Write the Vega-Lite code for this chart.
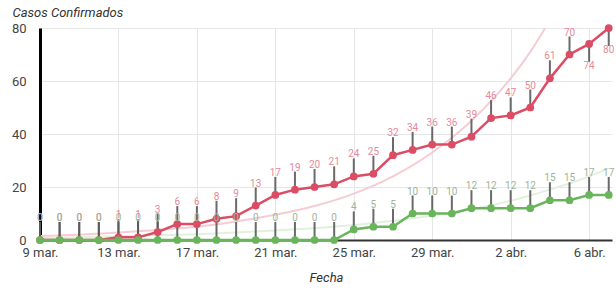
{
  "$schema": "https://vega.github.io/schema/vega-lite/v6.json",
  "width": 572,
  "height": 212,
  "autosize": {"type": "none"},
  "padding": {"left": 40, "top": 28, "right": 4, "bottom": 54},
  "background": "white",
  "config": {
    "view": {"stroke": null},
    "font": "Roboto",
    "axis": {"ticks": false, "grid": true, "gridColor": "#e6e6e6", "gridWidth": 1, "labelFont": "Roboto", "titleFont": "Roboto"}
  },
  "datasets": {
    "casos": [
      {"fecha": "2020-03-09T00:00", "Confirmados": 0, "Recuperados": 0},
      {"fecha": "2020-03-10T00:00", "Confirmados": 0, "Recuperados": 0},
      {"fecha": "2020-03-11T00:00", "Confirmados": 0, "Recuperados": 0},
      {"fecha": "2020-03-12T00:00", "Confirmados": 0, "Recuperados": 0},
      {"fecha": "2020-03-13T00:00", "Confirmados": 1, "Recuperados": 0},
      {"fecha": "2020-03-14T00:00", "Confirmados": 1, "Recuperados": 0},
      {"fecha": "2020-03-15T00:00", "Confirmados": 3, "Recuperados": 0},
      {"fecha": "2020-03-16T00:00", "Confirmados": 6, "Recuperados": 0},
      {"fecha": "2020-03-17T00:00", "Confirmados": 6, "Recuperados": 0},
      {"fecha": "2020-03-18T00:00", "Confirmados": 8, "Recuperados": 0},
      {"fecha": "2020-03-19T00:00", "Confirmados": 9, "Recuperados": 0},
      {"fecha": "2020-03-20T00:00", "Confirmados": 13, "Recuperados": 0},
      {"fecha": "2020-03-21T00:00", "Confirmados": 17, "Recuperados": 0},
      {"fecha": "2020-03-22T00:00", "Confirmados": 19, "Recuperados": 0},
      {"fecha": "2020-03-23T00:00", "Confirmados": 20, "Recuperados": 0},
      {"fecha": "2020-03-24T00:00", "Confirmados": 21, "Recuperados": 0},
      {"fecha": "2020-03-25T00:00", "Confirmados": 24, "Recuperados": 4},
      {"fecha": "2020-03-26T00:00", "Confirmados": 25, "Recuperados": 5},
      {"fecha": "2020-03-27T00:00", "Confirmados": 32, "Recuperados": 5},
      {"fecha": "2020-03-28T00:00", "Confirmados": 34, "Recuperados": 10},
      {"fecha": "2020-03-29T00:00", "Confirmados": 36, "Recuperados": 10},
      {"fecha": "2020-03-30T00:00", "Confirmados": 36, "Recuperados": 10},
      {"fecha": "2020-03-31T00:00", "Confirmados": 39, "Recuperados": 12},
      {"fecha": "2020-04-01T00:00", "Confirmados": 46, "Recuperados": 12},
      {"fecha": "2020-04-02T00:00", "Confirmados": 47, "Recuperados": 12},
      {"fecha": "2020-04-03T00:00", "Confirmados": 50, "Recuperados": 12},
      {"fecha": "2020-04-04T00:00", "Confirmados": 61, "Recuperados": 15},
      {"fecha": "2020-04-05T00:00", "Confirmados": 70, "Recuperados": 15},
      {"fecha": "2020-04-06T00:00", "Confirmados": 74, "Recuperados": 17},
      {"fecha": "2020-04-07T00:00", "Confirmados": 80, "Recuperados": 17}
    ],
    "tendencia": [
      {"fecha": "2020-03-09T00:00", "tc": 1.5, "tr": 0.8},
      {"fecha": "2020-03-11T00:00", "tc": 2.0, "tr": 1.0},
      {"fecha": "2020-03-13T00:00", "tc": 2.8, "tr": 1.4},
      {"fecha": "2020-03-15T00:00", "tc": 3.8, "tr": 1.8},
      {"fecha": "2020-03-17T00:00", "tc": 5.0, "tr": 2.2},
      {"fecha": "2020-03-19T00:00", "tc": 7.0, "tr": 2.8},
      {"fecha": "2020-03-21T00:00", "tc": 9.5, "tr": 3.6},
      {"fecha": "2020-03-23T00:00", "tc": 12.8, "tr": 4.5},
      {"fecha": "2020-03-25T00:00", "tc": 17.5, "tr": 5.7},
      {"fecha": "2020-03-27T00:00", "tc": 24, "tr": 7.3},
      {"fecha": "2020-03-29T00:00", "tc": 33, "tr": 9.2},
      {"fecha": "2020-03-31T00:00", "tc": 45, "tr": 11.7},
      {"fecha": "2020-04-02T00:00", "tc": 61, "tr": 14.8},
      {"fecha": "2020-04-03T00:00", "tc": 71, "tr": 16.8},
      {"fecha": "2020-04-04T00:00", "tc": 83, "tr": 19},
      {"fecha": "2020-04-05T00:00", "tc": null, "tr": 21.3},
      {"fecha": "2020-04-06T00:00", "tc": null, "tr": 24},
      {"fecha": "2020-04-07T00:00", "tc": null, "tr": 27}
    ]
  },
  "encoding": {
    "x": {
      "field": "fecha",
      "type": "temporal",
      "scale": {"domain": [{"year": 2020, "month": 3, "date": 9}, {"year": 2020, "month": 4, "date": 7, "hours": 4}]},
      "axis": {
        "values": [
          {"year": 2020, "month": 3, "date": 9},
          {"year": 2020, "month": 3, "date": 13},
          {"year": 2020, "month": 3, "date": 17},
          {"year": 2020, "month": 3, "date": 21},
          {"year": 2020, "month": 3, "date": 25},
          {"year": 2020, "month": 3, "date": 29},
          {"year": 2020, "month": 4, "date": 2},
          {"year": 2020, "month": 4, "date": 6}
        ],
        "labelExpr": "date(datum.value) + ' ' + (month(datum.value) == 2 ? 'mar.' : 'abr.')",
        "domainColor": "#333333",
        "domainWidth": 2,
        "labelFontSize": 13,
        "labelColor": "#444444",
        "labelPadding": 6,
        "labelFlush": false,
        "title": "Fecha",
        "titleFontStyle": "italic",
        "titleFontWeight": "normal",
        "titleFontSize": 13,
        "titleColor": "#333333",
        "titlePadding": 12
      }
    }
  },
  "layer": [
    {
      "data": {"name": "tendencia"},
      "mark": {"type": "line", "clip": true, "interpolate": "monotone", "color": "#f6ccd3", "strokeWidth": 2},
      "encoding": {
        "y": {"field": "tc", "type": "quantitative", "scale": {"domain": [0, 80], "nice": false},
          "axis": {
            "values": [0, 10, 20, 30, 40, 50, 60, 70, 80],
            "labelExpr": "datum.value % 20 == 0 ? datum.label : ''",
            "domainColor": "#000000",
            "domainWidth": 3,
            "labelFontSize": 13,
            "labelColor": "#444444",
            "labelPadding": 14,
            "title": "Casos Confirmados",
            "titleAngle": 0,
            "titleAlign": "left",
            "titleBaseline": "middle",
            "titleX": -28,
            "titleY": -16,
            "titleFontStyle": "italic",
            "titleFontWeight": "normal",
            "titleFontSize": 13,
            "titleColor": "#333333"
          }
        }
      }
    },
    {
      "data": {"name": "tendencia"},
      "mark": {"type": "line", "clip": true, "interpolate": "monotone", "color": "#e2f1dd", "strokeWidth": 2},
      "encoding": {"y": {"field": "tr", "type": "quantitative"}}
    },
    {
      "data": {"name": "casos"},
      "transform": [{"fold": ["Confirmados", "Recuperados"], "as": ["serie", "valor"]}],
      "layer": [
        {
          "transform": [{"filter": "!(datum.serie == 'Confirmados' && datum.valor >= 74)"}],
          "mark": {"type": "tick", "orient": "vertical", "color": "#5a5a5a", "thickness": 2, "size": 18, "yOffset": -9, "opacity": 0.9},
          "encoding": {"y": {"field": "valor", "type": "quantitative"}}
        },
        {
          "transform": [{"filter": "datum.serie == 'Confirmados' && datum.valor >= 74"}],
          "mark": {"type": "tick", "orient": "vertical", "color": "#5a5a5a", "thickness": 2, "size": 18, "yOffset": 9, "opacity": 0.9},
          "encoding": {"y": {"field": "valor", "type": "quantitative"}}
        },
        {
          "mark": {"type": "line", "strokeWidth": 2.5},
          "encoding": {
            "y": {"field": "valor", "type": "quantitative"},
            "color": {"field": "serie", "type": "nominal", "scale": {"domain": ["Confirmados", "Recuperados"], "range": ["#dc4d65", "#6ab55c"]}, "legend": null},
            "order": {"field": "fecha", "type": "temporal"}
          }
        },
        {
          "mark": {"type": "circle", "size": 60, "opacity": 1},
          "encoding": {
            "y": {"field": "valor", "type": "quantitative"},
            "color": {"field": "serie", "type": "nominal", "legend": null}
          }
        },
        {
          "transform": [{"filter": "!(datum.serie == 'Confirmados' && datum.valor >= 74)"}],
          "mark": {"type": "text", "fontSize": 10, "dy": -22, "baseline": "middle", "font": "Roboto"},
          "encoding": {
            "y": {"field": "valor", "type": "quantitative"},
            "text": {"field": "valor", "type": "quantitative"},
            "fill": {"field": "serie", "type": "nominal", "scale": {"domain": ["Confirmados", "Recuperados"], "range": ["#e58a99", "#9cb59a"]}, "legend": null}
          }
        },
        {
          "transform": [{"filter": "datum.serie == 'Confirmados' && datum.valor >= 74"}],
          "mark": {"type": "text", "fontSize": 10, "dy": 22, "baseline": "middle", "font": "Roboto"},
          "encoding": {
            "y": {"field": "valor", "type": "quantitative"},
            "text": {"field": "valor", "type": "quantitative"},
            "fill": {"field": "serie", "type": "nominal", "legend": null}
          }
        }
      ]
    }
  ]
}
